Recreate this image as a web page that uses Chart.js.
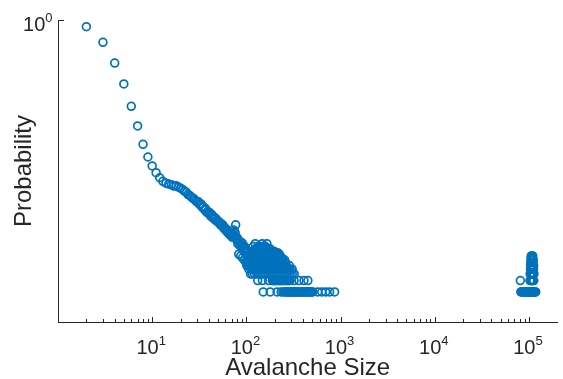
<!DOCTYPE html>
<html>
<head>
<meta charset="utf-8">
<script src="https://cdn.jsdelivr.net/npm/chart.js@4.4.0/dist/chart.umd.min.js"></script>
<style>
  html, body { margin: 0; padding: 0; background: #fff; }
</style>
</head>
<body>
<canvas id="avalancheChart" width="563" height="379"></canvas>
<script>
// total number of recorded avalanches, probability = count / TOTAL
const TOTAL = 16000000;

// small and medium avalanches: one count per size
const bodySizes = [
  2, 3, 4, 5, 6, 7, 8, 9, 10, 11, 12, 13, 14, 15, 16, 17, 18, 19, 20,
  21, 22, 23, 24, 25, 26, 27, 28, 29, 30, 31, 32, 33, 34, 35, 36, 37, 38, 39, 40,
  41, 42, 43, 44, 45, 46, 47, 48, 49, 50, 51, 52, 53, 54, 55, 56, 57, 58, 59, 60,
  61, 62, 63, 64, 65, 66, 67, 68, 69, 70, 71, 72, 73, 74, 75, 76, 77, 78, 79, 80,
  81, 82, 83, 84, 85, 86, 87, 88, 89, 90, 91, 92, 93, 94, 95, 96, 97, 98, 99, 100
];
const bodyCounts = [
  10640000, 4110000, 1160000, 323000, 82900, 25000, 8160, 3760, 2180, 1440, 1060, 850, 760, 720, 690, 640, 650, 600, 560,
  520, 470, 440, 380, 360, 330, 300, 290, 260, 240, 245, 205, 215, 175, 180, 150, 160, 128, 135, 118,
  125, 100, 112, 92, 98, 84, 90, 76, 80, 72, 68, 70, 60, 64, 56, 60, 50, 53, 46, 48,
  42, 45, 38, 41, 35, 37, 33, 35, 30, 32, 28, 34, 44, 30, 40, 36, 60, 26, 24, 27,
  19, 24, 10, 22, 17, 21, 9, 18, 15, 20, 8, 16, 13, 17, 7, 14, 11, 15, 6, 12
];

// tail 100..1000: sizes grouped by how often they occurred
const tailRows = {
  1: [151, 179, 212, 234, 245, 257, 264, 270, 277, 284, 291, 298, 305, 312, 320, 328, 336, 344, 352, 361, 370, 379, 388, 398, 408, 418, 428, 438, 449, 460, 471, 483, 495, 507, 572, 631, 695, 766, 865],
  2: [132, 148, 172, 189, 194, 198, 203, 208, 213, 218, 223, 229, 234, 240, 246, 252, 258, 265, 271, 278, 284, 291, 321, 362, 409, 450],
  3: [111, 116, 122, 129, 135, 142, 149, 156, 163, 171, 180, 189, 199, 209, 219, 230, 241, 253, 266, 279, 292, 307, 322],
  4: [106, 112, 117, 123, 128, 135, 141, 148, 156, 164, 173, 181, 190, 199, 209, 219, 230, 241, 253, 266, 279, 292, 306],
  5: [101, 106, 112, 117, 123, 129, 136, 143, 150, 157, 164, 172, 181, 190, 200, 210, 220, 231, 243, 255, 267, 286],
  6: [103, 109, 114, 120, 126, 133, 139, 145, 152, 159, 167, 176, 184, 193, 203, 213, 224, 236, 247, 259],
  7: [104, 110, 118, 124, 129, 135, 142, 149, 157, 165, 174, 182, 191, 200, 210, 220, 231, 243, 255],
  8: [102, 110, 116, 121, 128, 134, 140, 146, 153, 161, 169, 177, 185, 194, 204, 214, 226, 238],
  9: [105, 113, 119, 124, 131, 137, 144, 152, 159, 166, 174, 182, 191, 201, 212, 223],
  10: [108, 115, 121, 126, 132, 139, 146, 153, 160, 167, 175, 184, 193, 203, 213, 224],
  11: [114, 119, 127, 138, 146, 154, 162, 170, 182, 195, 205, 215],
  12: [116, 122, 127, 131, 140, 148, 155, 165, 175, 185, 196],
  14: [125, 130, 136, 143, 150, 158, 168, 178],
  16: [118, 133, 140, 144, 152, 160],
  19: [124, 147, 165]
};

// system-spanning avalanches near 1e5
const spikeRows = {
  1: [82000, 83500, 85000, 86500, 88000, 89500, 91000, 92500, 94000, 95500, 97000, 98500, 100000, 101500, 103000, 104500, 106000, 107500, 109000, 110500, 112000, 113500, 115000, 116500, 118000],
  2: [81000, 102500, 104500, 106500, 108500, 110500, 112500],
  3: [103000, 105000, 107000, 109000, 111000, 113000],
  4: [103800, 105800, 107800, 109800, 111800],
  5: [104200, 106200, 108200, 110200, 112200],
  6: [104600, 106600, 108600, 110600],
  7: [105100, 107100, 109100, 111100],
  8: [105400, 107400, 109400],
  9: [105700, 107700, 109700]
};

// axes
const X_MIN = 1, X_MAX = 200000, Y_MIN = 1e-8, Y_MAX = 1;
const xMajorTicks = [10, 100, 1000, 10000, 100000];
const xTickExps = ['1', '2', '3', '4', '5'];
const yMajorTicks = [1];
const yTickExps = ['0'];
const xLabel = 'Avalanche Size';
const yLabel = 'Probability';

const FONT = '"Liberation Sans", Arial, Helvetica, sans-serif';
const AXIS_COLOR = '#262626';
const MARKER_COLOR = '#0072BD';

// build the point list
const points = [];
bodySizes.forEach((s, i) => points.push({ x: s, y: bodyCounts[i] / TOTAL }));
[tailRows, spikeRows].forEach(rows => {
  Object.keys(rows).forEach(c => {
    rows[c].forEach(s => points.push({ x: s, y: Number(c) / TOTAL }));
  });
});

// MATLAB style inward ticks, 10^n labels and axis titles
const matlabAxes = {
  id: 'matlabAxes',
  afterDraw(chart) {
    const { ctx, chartArea: a } = chart;
    const x = chart.scales.x, y = chart.scales.y;
    ctx.save();
    ctx.strokeStyle = AXIS_COLOR;
    ctx.lineWidth = 1;
    ctx.beginPath();
    x.ticks.forEach(t => {
      const px = Math.round(x.getPixelForValue(t.value)) + 0.5;
      ctx.moveTo(px, a.bottom);
      ctx.lineTo(px, a.bottom - (t.major ? 5 : 3));
    });
    y.ticks.forEach(t => {
      const py = Math.round(y.getPixelForValue(t.value)) + 0.5;
      ctx.moveTo(a.left, py);
      ctx.lineTo(a.left + 6, py);
    });
    ctx.stroke();

    ctx.fillStyle = AXIS_COLOR;
    ctx.textBaseline = 'alphabetic';
    ctx.textAlign = 'left';
    const drawPow = (exp, anchor, base, align) => {
      ctx.font = '20px ' + FONT;
      const w1 = ctx.measureText('10').width;
      ctx.font = '13px ' + FONT;
      const w2 = ctx.measureText(exp).width;
      const left = align === 'right' ? anchor - w1 - w2 : anchor - (w1 + w2) / 2;
      ctx.font = '20px ' + FONT;
      ctx.fillText('10', left, base);
      ctx.font = '13px ' + FONT;
      ctx.fillText(exp, left + w1, base - 9);
    };
    xMajorTicks.forEach((v, i) => drawPow(xTickExps[i], x.getPixelForValue(v) - 1, a.bottom + 31.5, 'center'));
    yMajorTicks.forEach((v, i) => drawPow(yTickExps[i], a.left - 5.5, y.getPixelForValue(v) + 10.7, 'right'));

    ctx.font = '24px ' + FONT;
    ctx.textAlign = 'center';
    ctx.fillText(xLabel, (a.left + a.right) / 2, 375);
    ctx.translate(31, (a.top + a.bottom) / 2);
    ctx.rotate(-Math.PI / 2);
    ctx.fillText(yLabel, 0, 0);
    ctx.restore();
  }
};

document.addEventListener('DOMContentLoaded', function () {
  const ctx = document.getElementById('avalancheChart').getContext('2d');
  new Chart(ctx, {
    type: 'scatter',
    data: {
      datasets: [
        {
          label: 'Avalanches',
          data: points,
          pointStyle: 'circle',
          pointRadius: 3.9,
          pointBorderWidth: 1.7,
          pointBorderColor: MARKER_COLOR,
          pointBackgroundColor: 'rgba(0,0,0,0)',
          showLine: false
        }
      ]
    },
    options: {
      responsive: false,
      animation: false,
      devicePixelRatio: 1,
      layout: { padding: { left: 58, top: 20, right: 0, bottom: 57 } },
      plugins: {
        legend: { display: false },
        tooltip: { enabled: false }
      },
      scales: {
        x: {
          type: 'logarithmic',
          min: X_MIN,
          max: X_MAX,
          grid: { display: false, drawTicks: false },
          border: { display: true, color: AXIS_COLOR, width: 1 },
          ticks: { display: false },
          afterBuildTicks: scale => {
            const ticks = [];
            for (let d = 0; d < 6; d++) {
              for (let k = 1; k < 10; k++) {
                const v = k * Math.pow(10, d);
                if (v > X_MIN && v < X_MAX) ticks.push({ value: v, major: k === 1 });
              }
            }
            scale.ticks = ticks;
          }
        },
        y: {
          type: 'logarithmic',
          min: Y_MIN,
          max: Y_MAX,
          grid: { display: false, drawTicks: false },
          border: { display: true, color: AXIS_COLOR, width: 1 },
          ticks: { display: false },
          afterBuildTicks: scale => {
            scale.ticks = yMajorTicks.map(v => ({ value: v, major: true }));
          }
        }
      }
    },
    plugins: [matlabAxes]
  });
});
</script>
</body>
</html>
